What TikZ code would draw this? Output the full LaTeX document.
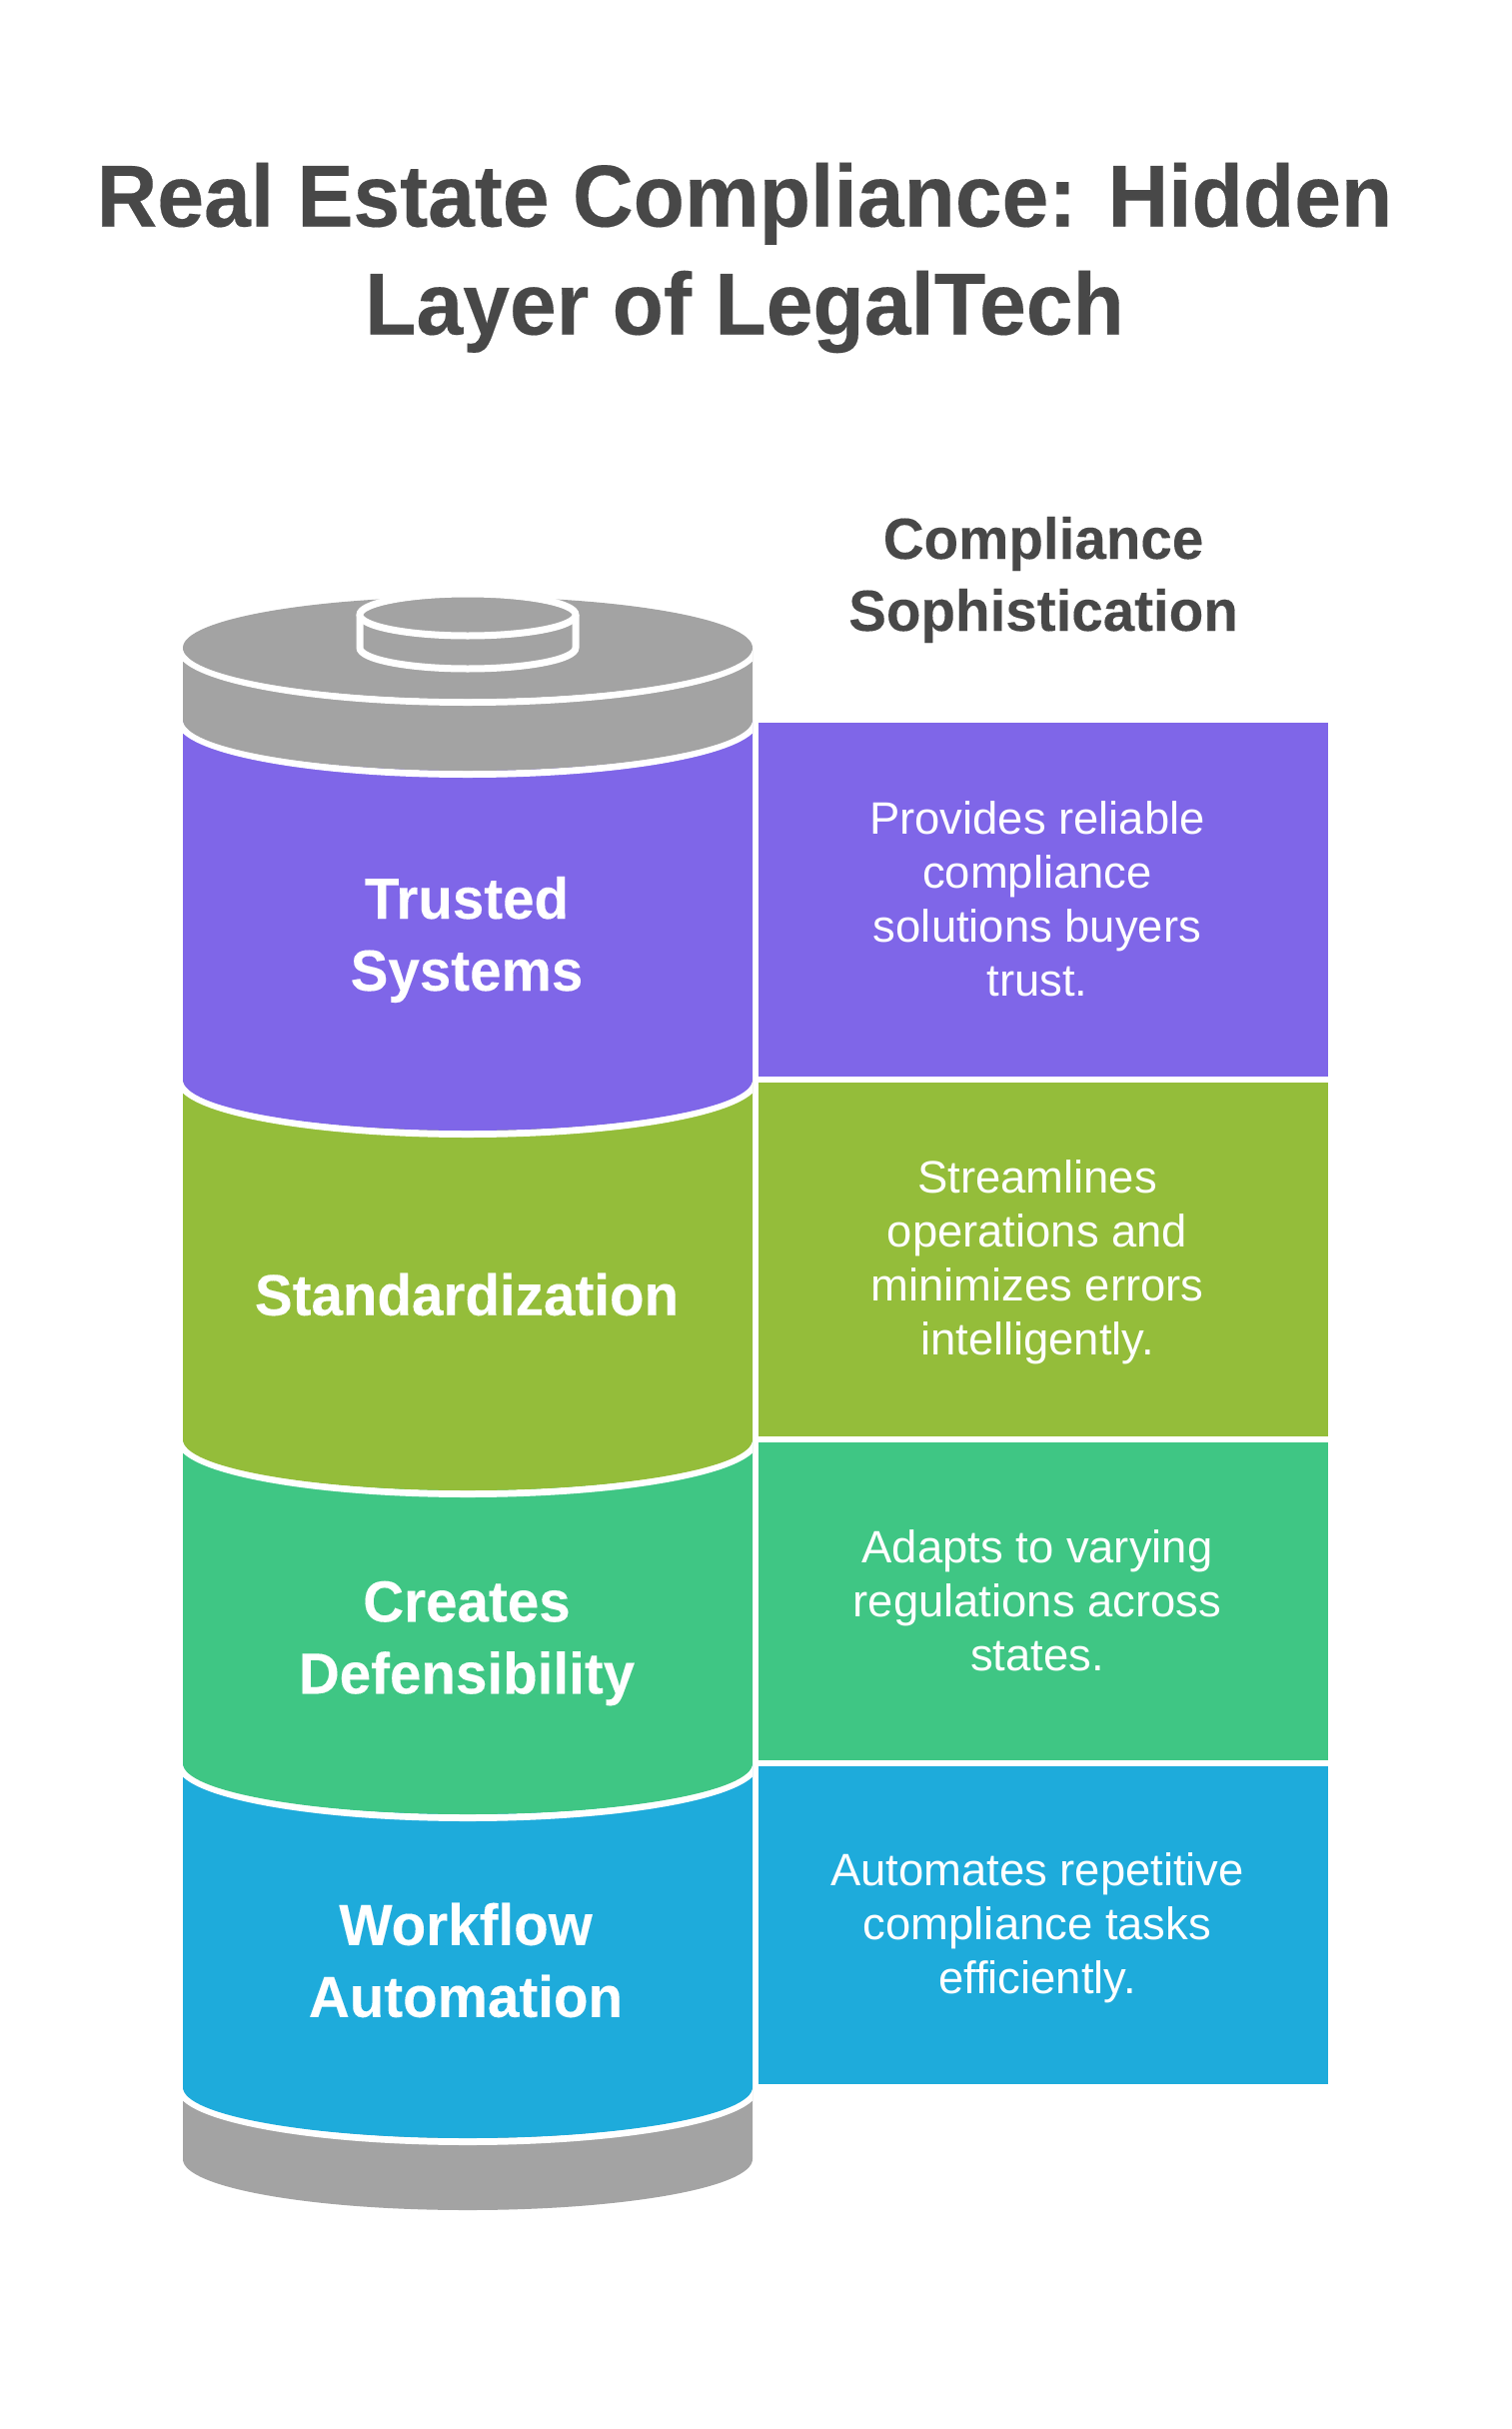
\documentclass[tikz,border=0pt]{standalone}
\usepackage{fontspec}
\setmainfont{Liberation Sans}
\newfontfamily\titlefont{Liberation Sans}[BoldFeatures={FakeStretch=0.955, FakeBold=0.2}]
\newfontfamily\headfont{Liberation Sans}[BoldFeatures={FakeStretch=0.975, FakeBold=0.15}]
\usetikzlibrary{positioning}
\definecolor{titlegray}{HTML}{484848}
\definecolor{drumgray}{HTML}{A3A3A3}
\definecolor{trustcol}{HTML}{7F66E8}
\definecolor{standcol}{HTML}{94BD3A}
\definecolor{defencol}{HTML}{3FC684}
\definecolor{flowcol}{HTML}{1EABDB}
\tikzset{
  titletext/.style={align=center, inner sep=0pt, text=titlegray, font=\titlefont\bfseries\fontsize{44}{54}\selectfont},
  headtext/.style={align=center, inner sep=0pt, text=titlegray, font=\headfont\bfseries\fontsize{29}{36}\selectfont},
  layertext/.style={align=center, inner sep=0pt, text=white, font=\headfont\bfseries\fontsize{29}{36}\selectfont},
  infobox/.style={inner sep=0pt, outer sep=0pt, minimum width=285pt, anchor=north},
  infotext/.style={align=center, inner sep=0pt, text=white, font=\fontsize{22.7}{27}\selectfont}
}
\begin{document}
\begin{tikzpicture}[x=0.5pt, y=-0.5pt]
  \useasboundingbox (0, 0) rectangle (1512, 2430);
  \node[titletext] (title) at (745, 258) {Real Estate Compliance: Hidden\\Layer of LegalTech};
  \node[headtext] (head) at (1044, 580) {Compliance\\Sophistication};
  % drum, bottom layer first
  \foreach \ya/\yb/\col in {2088/2160/drumgray, 1764/2088/flowcol, 1440/1764/defencol, 1080/1440/standcol, 720/1080/trustcol, 648/720/drumgray} {
    \begin{scope}
      \clip (183, \yb) rectangle (753, \yb+70);
      \draw[white, line width=3.5pt] (179.5, \yb) arc[start angle=180, end angle=0, x radius=288.5, y radius=54.5];
    \end{scope}
    \fill[\col] (183, \ya) -- (183, \yb) arc[start angle=180, end angle=0, x radius=285, y radius=51] -- (753, \ya) -- cycle;
  }
  % lid
  \begin{scope}
    \clip (183, 648) rectangle (753, 718);
    \draw[white, line width=3.5pt] (179.5, 648) arc[start angle=180, end angle=0, x radius=288.5, y radius=54.5];
  \end{scope}
  \fill[drumgray] (468, 648) ellipse[x radius=285, y radius=51];
  \draw[white, line width=3.5pt] (360, 615) -- (360, 648) arc[start angle=180, end angle=0, x radius=108, y radius=21] -- (576, 615);
  \draw[white, fill=drumgray, line width=3.5pt] (468, 615) ellipse[x radius=108, y radius=21];
  \node[layertext] (trust) at (467, 940) {Trusted\\Systems};
  \node[layertext] (stand) at (467, 1295) {Standardization};
  \node[layertext] (defen) at (467, 1644) {Creates\\Defensibility};
  \node[layertext] (flow) at (466, 1961) {Workflow\\Automation};
  % boxes on the right
  \node[infobox, fill=trustcol, minimum height=177pt] (trustbox) at (1044, 723) {};
  \node[infobox, fill=standcol, minimum height=177pt, below=3pt of trustbox] (standbox) {};
  \node[infobox, fill=defencol, minimum height=159pt, below=3pt of standbox] (defenbox) {};
  \node[infobox, fill=flowcol, minimum height=159pt, below=3pt of defenbox] (flowbox) {};
  \node[infotext] (trustinfo) at ([xshift=-3pt, yshift=0.5pt]trustbox.center) {Provides reliable\\compliance\\solutions buyers\\trust.};
  \node[infotext] (standinfo) at ([xshift=-3pt, yshift=-1.2pt]standbox.center) {Streamlines\\operations and\\minimizes errors\\intelligently.};
  \node[infotext] (defeninfo) at ([xshift=-3pt, yshift=0.5pt]defenbox.center) {Adapts to varying\\regulations across\\states.};
  \node[infotext] (flowinfo) at ([xshift=-3pt, yshift=-1.2pt]flowbox.center) {Automates repetitive\\compliance tasks\\efficiently.};
\end{tikzpicture}
\end{document}
